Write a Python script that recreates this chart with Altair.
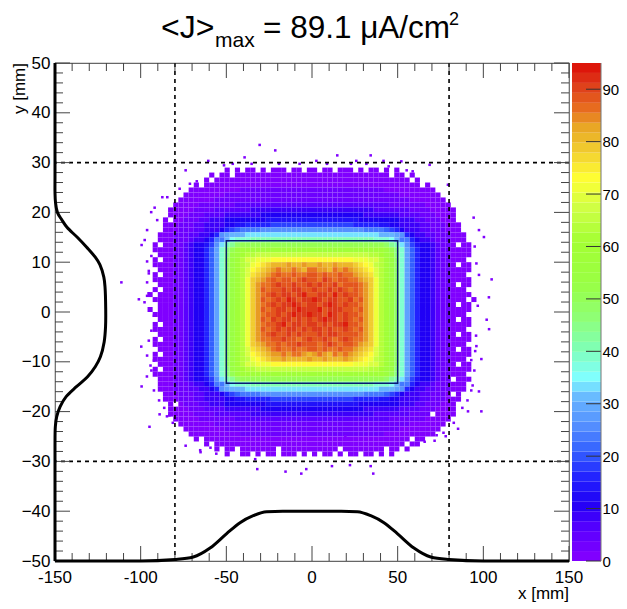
import altair as alt
import pandas as pd

alt.data_transformers.disable_max_rows()

FONT = "Liberation Sans"
W, H = 514, 498

# One string per row of the map, top to bottom (y = 28.5 ... -28.5), 3 mm x 1 mm cells.
# Each character is a level of 2.5 uA/cm2 (position in LEVELS); "." is an empty cell.
LEVELS = "0123456789abcdefghijklmnopqrstuvwxyzAB"
ROWS = [
    "...............0.0.00.0.000.00.0" "0.00.000.0.00.0.0...............",
    "............0.00.000000000000000" "000000000000000.00.0............",
    "...........0.0000000000000000000" "0000000000000000000.0...........",
    ".........0.000000000000000000000" "000000000000000000000.0.........",
    "........000000000011111111111111" "11111111111111" "0000000000........",
    ".......0000000011111111111111111" "11111111111111111" "00000000.......",
    "......00000001111111111111111111" "1111111111111111111" "0000000......",
    ".....000001111111222222222222222" "222222222222222111111100000.....",
    "....0000011112222222333333333333" "3333333333332222222111100000....",
    "....0000111222233333334444444444" "4444444444333333322221110000....",
    "...0.001112233344444444555555555" "5555555554444444433322111000....",
    "...00011122333344556666677777777" "77777777666665544333322111000...",
    "...0001112233346789999aaaaaaaaaa" "aaaaaaaaaa9999876433322111000...",
    "..000111223346abcccddddddddddddd" "dddddddddddddcccba643322111000..",
    "..0001112334699cefffgggggggggggg" "ggggggggggggfffec9964332111000..",
    ".0.00112" "3445" "7adghjkkkkkkkkkkkkkk" "kkkkkkkkkkkkkkjhgda7" "5443" "2110.00.",
    ".0000112" "3446" "8bfikmnnnnnnnnnnnnnn" "nnnnnnnnnnnnnnmkifb8" "6443" "2110000.",
    "..000112" "3446" "8bfilmoppqqqqqqqqqqq" "qqqqqqqqqqqppomlifb8" "6443" "2110000.",
    ".0.00112" "3446" "8bfjlnprrssstttttttt" "ttttttttsssrrpnljfb8" "6443" "211000..",
    ".0000112" "3446" "8bfjlnpqstuvwwwxwwxw" "wxwwxwwwvutsqpnljfb8" "6443" "2110.00.",
    "..000112" "3446" "8bfjlnprtuvwxyxxyxwy" "yxxwyxyxwvutrpnljfb8" "6443" "2110000.",
    ".0.00112" "3446" "8bfjlnpruvwxyzyyzyyz" "zyzyyzyyxwvurpnljfb8" "6443" "211000..",
    ".0000112" "3446" "8bfjlnpsvwxyzyzzyzAz" "zyAzyzzyyxwvspnljfb8" "6443" "2110000.",
    "..000112" "3446" "8bfjlnpsvxyyzAzzAzzA" "zAzzAyzzzyxvspnljfb8" "6443" "2110.00.",
    ".0.00112" "3446" "8bfjlnpsvxzyzzAzAAzz" "AzzAzAzyzyxvspnljfb8" "6443" "211000..",
    "0.000112" "3446" "8bfjlnpsvxyzAzAAzABz" "zAAzBzAzzyxvspnljfb8" "6443" "2110000.",
    ".0000112" "3446" "8bfjlnpsvxzyzAzBAzAA" "BAzAAzzAyzxvspnljfb8" "6443" "211000.0",
    "..000112" "3446" "8bfjlnpsvxyzAzAABAzA" "AzABAzAzzyxvspnljfb8" "6443" "2110.00.",
    "0.000112" "3446" "8bfjlnpsvxzyzAAzABAA" "ABzAAAzzyzxvspnljfb8" "6443" "2110000.",
    ".0000112" "3446" "8bfjlnpsvxyzzAzABAAB" "AAzBAzAzzyxvspnljfb8" "6443" "211000..",
    "..000112" "3446" "8bfjlnpsvxzyAzAAzAzA" "zABAAzAzyzxvspnljfb8" "6443" "2110.00.",
    ".0.00112" "3446" "8bfjlnpsvxyzzABzAAzA" "AzAzAABzzyxvspnljfb8" "6443" "2110000.",
    ".0000112" "3446" "8bfjlnpsvxzyzAzAAzAz" "AAzAzzAzyzxvspnljfb8" "6443" "211000..",
    "..000112" "3446" "8bfjlnpsvxyzAzzAzAzz" "zAzAAzzzzyxvspnljfb8" "6443" "2110.00.",
    ".0.00112" "3446" "8bfjlnpsvxyyzzAzzyzA" "zzAzyzAzyyxvspnljfb8" "6443" "2110000.",
    ".0000112" "3446" "8bfjlnpsvwxyyzyzzAzz" "zyzAzyzzyxwvspnljfb8" "6443" "211000..",
    "..000112" "3446" "8bfjlnpruvwxyzyyzyyz" "zyzyyzyyxwvurpnljfb8" "6443" "2110.00.",
    ".0.00112" "3446" "8bfjlnprtuvwxxyxyyxw" "xyxwyxyxwvutrpnljfb8" "6443" "2110000.",
    ".0000112" "3446" "8bfjlnpqstuvwwxwwwwx" "wwxwwwxwvutsqpnljfb8" "6443" "211000..",
    "..000112" "3446" "8bfjlnprrssstttttttt" "ttttttttsssrrpnljfb8" "6443" "2110.00.",
    ".0.00112" "3446" "8bfilmoppqqqqqqqqqqq" "qqqqqqqqqqqppomlifb8" "6443" "2110000.",
    ".0000112" "3446" "8bfikmnnnnnnnnnnnnnn" "nnnnnnnnnnnnnnmkifb8" "6443" "211000..",
    "..000112" "3445" "7adghjkkkkkkkkkkkkkk" "kkkkkkkkkkkkkkjhgda7" "5443" "211.000.",
    "..0001112334699cefffgggggggggggg" "ggggggggggggfffec9964332111000..",
    "..000111223346abcccddddddddddddd" "dddddddddddddcccba643322111000..",
    "...0001112233346789999aaaaaaaaaa" "aaaaaaaaaa99998764333221110.0...",
    "...00011122333344556666677777777" "77777777666665544333322111000...",
    "....0.01112233344444444555555555" "5555555554444444433322111000....",
    "....0000111222233333334444444444" "4444444444333333322221110000....",
    "....0000011112222222333333333333" "33333333333322222221111.0000....",
    ".....000001111111222222222222222" "222222222222222111111100000.....",
    "......00000001111111111111111111" "1111111111111111111" "0000000......",
    ".......0000000011111111111111111" "11111111111111111" "00000000.......",
    "........000000000011111111111111" "11111111111111" "0000000000........",
    ".........0.000000000000000000000" "0000000000000000000.00..........",
    "...........0.0000000000000000000" "000000000000000000.00...........",
    ".............0.00.0000000.000000" "00000.00000000.00.0.............",
    "...............0..00.0.00.000.0." "0.00.0.00.00.0.0................",
]
CELL_LEFT, CELL_TOP, CELL_W, CELL_H, LEVEL_STEP = -96.0, 29.0, 3.0, 1.0, 2.5

# Isolated low cells outside the body of the beam
SPECK_X = [-31.3,-22.2,-40.1,-61.3,-52.1,-74.5,-88.1,-85.2,-92.6,-94.6,-91.1,-97,-98.4,-100.2,-97,-97,-101.8,-98.5,-112,
           14,33.5,1.8,25.1,41,51.4,54.5,67.9,78.6,93.6,96.7,99.6,104.1,102.5,96.7,95.2,94.2,
           -100.4,-97.1,-100.2,-95.6,-89.7,-85.4,-77.6,-74.5,-65.8,-56.6,-32.7,-16.2,-7,-4.1,-33.9,
           10.9,21.4,33.5,35,18.7,101.2,102.6,98.1,96.7,98.1,90.3,84.5,77.3,65,70.8,95.2,94.5,92.2,90.5,92.2,
           -94.5,-96,-96,-93,-94.5,-96,-93,-94.5,-93,-90,-87,-84,-82,-66,-60,-47,-36,-20,-8,8,22,31,44,58,
           -78,-72,-68,72,76,82,87,90,93,94,95,96,-97,-96,-97,-95]
SPECK_Y = [33.3,32.2,30.8,30.1,29.2,28.2,22.8,22.8,20.7,19.8,18.2,16.2,14.2,13.2,9.9,5.7,2.3,1.7,5.7,
           31.2,31.2,30.1,30.1,30.1,30,28.2,29.3,25.3,18.7,16.2,14.8,6.3,2.7,7.2,9.5,12.9,
           -7.2,-13.2,-15.2,-23.3,-20.8,-21.2,-18.7,-27.1,-28.4,-28.7,-31.8,-32.3,-32.7,-31.8,-29.8,
           -31.2,-31,-31.2,-32.7,-25.2,-1.8,-3.7,-9.7,-16.2,-20.2,-20.2,-23.7,-25.2,-26.3,-26.1,-7.1,-8.1,-9.9,-13.8,-16,
           11,7.5,3.5,-1,-4,-6,-10,-12,-16,-18,-19.5,-21,-22.5,-28,-27.5,29.5,29.5,29.5,29.5,29.5,29.5,29.5,29,28,
           24.5,25.5,26,-25,-24.5,-22.5,-19.5,-18,-15,-12,-5,1,3,8,-9,-11,-3]
SPECK_DX, SPECK_DY = 1.5, 0.5

# Colour scale of the bar
COLOR_STOPS = [0, 5, 10, 15, 20, 25, 30, 34, 40, 46, 52, 60, 66, 72, 77, 82, 85, 90, 95]
COLOR_HEX = ["#8000ff", "#5a00ff", "#2000f5", "#2222ff", "#3360ff", "#5590ff", "#66b4ff", "#80ffff",
             "#80ffb0", "#90ff70", "#99ff44", "#a4ff33", "#ccff44", "#ffff33", "#f2d030", "#e8a424",
             "#e87020", "#dd3a1a", "#dd0000"]
BAR_EDGES = [0,1.9,3.8,5.7,7.6,9.5,11.4,13.3,15.2,17.1,19,20.9,22.8,24.7,26.6,28.5,30.4,32.3,34.2,36.1,38,39.9,41.8,
             43.7,45.6,47.5,49.4,51.3,53.2,55.1,57,58.9,60.8,62.7,64.6,66.5,68.4,70.3,72.2,74.1,76,77.9,79.8,81.7,
             83.6,85.5,87.4,89.3,91.2,93.1,95]
BAR_TICKS = [0, 10, 20, 30, 40, 50, 60, 70, 80, 90]

# Lines
GUIDE_X = [-80, 80]
GUIDE_Y = [-30, 30]
BOX_X, BOX_X2, BOX_Y, BOX_Y2 = -50, 50, -14.3, 14.3
BOTTOM_X = [-150,-100,-80,-69.3,-59.5,-49.8,-42,-34.3,-26.5,-17,0,17,26.5,34.3,42,49.8,59.5,69.3,80,100,150]
BOTTOM_Y = [-50,-50,-49.7,-49.2,-47.4,-44.5,-42.3,-40.9,-40.1,-40,-40,-40,-40.1,-40.9,-42.3,-44.5,-47.4,-49.2,-49.7,-50,-50]
LEFT_Y = [50,35,27,24,22,20,18.5,17,15,13,11,9.5,7,5,0.5,-3,-6,-9,-11,-13,-15,-17,-19,-21,-23,-27,-35,-50]
LEFT_X = [-150,-150,-150,-150,-149.7,-148.6,-146,-143,-137,-131.5,-126.5,-123.8,-121.5,-120.8,-120.4,-120.5,-121.3,
          -123.5,-126.5,-131,-137.5,-143.5,-147,-149,-149.8,-150,-150,-150]

X_TICKS = [-150, -100, -50, 0, 50, 100, 150]
Y_TICKS = [-50, -40, -30, -20, -10, 0, 10, 20, 30, 40, 50]
X_MINOR = [v for v in range(-150, 151, 10) if v not in X_TICKS]
Y_MINOR = [v for v in range(-50, 51, 2) if v not in Y_TICKS]

# Tables
cells = []
for r, row in enumerate(ROWS):
    for c, ch in enumerate(row):
        if ch == ".":
            continue
        cells.append({"x0": CELL_LEFT + c * CELL_W, "x1": CELL_LEFT + (c + 1) * CELL_W,
                      "y0": CELL_TOP - r * CELL_H, "y1": CELL_TOP - (r + 1) * CELL_H,
                      "v": LEVELS.index(ch) * LEVEL_STEP})
for sx, sy in zip(SPECK_X, SPECK_Y):
    cells.append({"x0": sx, "x1": sx + SPECK_DX, "y0": sy, "y1": sy + SPECK_DY, "v": 0.0})
cells = pd.DataFrame(cells)

xs = alt.Scale(domain=[-150, 150], nice=False, zero=False)
ys = alt.Scale(domain=[-50, 50], nice=False, zero=False)
bs = alt.Scale(domain=[0, 95], nice=False, zero=False)
cs = alt.Scale(domain=COLOR_STOPS, range=COLOR_HEX, interpolate="rgb", clamp=True)

def X(f, **k):
    return alt.X(f, scale=xs, axis=None, **k)

def Y(f, **k):
    return alt.Y(f, scale=ys, axis=None, **k)

heat = alt.Chart(cells).mark_rect(stroke=None).encode(
    x=X("x0:Q"),
    x2="x1:Q",
    y=alt.Y("y0:Q", scale=ys, axis=alt.Axis(
        values=Y_TICKS, ticks=False, domain=False, grid=False, labelFlush=False, labelOverlap=False,
        labelFont=FONT, labelFontSize=17, labelColor="#000", labelPadding=5, title=None)),
    y2="y1:Q",
    color=alt.Color("v:Q", scale=cs, legend=None),
)

def rules_x(vals, y1, y2, color="#444", width=1):
    return alt.Chart(pd.DataFrame({"v": vals})).mark_rule(color=color, strokeWidth=width).encode(
        x=X("v:Q"), y=alt.value(y1), y2=alt.value(y2))

def rules_y(vals, x1, x2, color="#444", width=1):
    return alt.Chart(pd.DataFrame({"v": vals})).mark_rule(color=color, strokeWidth=width).encode(
        y=Y("v:Q"), x=alt.value(x1), x2=alt.value(x2))

tick_layers = [
    rules_x(X_TICKS, H, H - 15), rules_x(X_MINOR, H, H - 8),
    rules_x(X_TICKS, 0, 15), rules_x(X_MINOR, 0, 8),
    rules_y(Y_TICKS, 0, 15), rules_y(Y_MINOR, 0, 8),
    rules_y(Y_TICKS, W, W - 15), rules_y(Y_MINOR, W, W - 8),
]

x_labels = alt.Chart(pd.DataFrame({"v": X_TICKS, "s": [str(v) for v in X_TICKS]})).mark_text(
    font=FONT, fontSize=17, color="#000", align="center", baseline="middle").encode(
    x=X("v:Q"), y=alt.value(H + 17), text="s:N")

dash_x = alt.Chart(pd.DataFrame({"v": GUIDE_X})).mark_rule(color="#000", strokeWidth=1.6, strokeDash=[4, 4]).encode(x=X("v:Q"))
dash_y = alt.Chart(pd.DataFrame({"v": GUIDE_Y})).mark_rule(color="#000", strokeWidth=1.6, strokeDash=[4, 4]).encode(y=Y("v:Q"))

box = alt.Chart(pd.DataFrame({"x0": [BOX_X], "x1": [BOX_X2], "y0": [BOX_Y], "y1": [BOX_Y2]})).mark_rect(
    fillOpacity=0, stroke="#0a1a70", strokeWidth=1.5).encode(x=X("x0:Q"), x2="x1:Q", y=Y("y0:Q"), y2="y1:Q")

curve_b = alt.Chart(pd.DataFrame({"x": BOTTOM_X, "y": BOTTOM_Y})).mark_line(
    color="#000", strokeWidth=3, interpolate="monotone", clip=False).encode(x=X("x:Q"), y=Y("y:Q"))
curve_l = alt.Chart(pd.DataFrame({"x": LEFT_X, "y": LEFT_Y, "o": list(range(len(LEFT_X)))})).mark_line(
    color="#000", strokeWidth=3, interpolate="catmull-rom", clip=False).encode(
    x=X("x:Q"), y=Y("y:Q"), order="o:Q")

def label(text, px, py, size, **kw):
    args = dict(font=FONT, fontSize=size, align="left", baseline="alphabetic", color="#000")
    args.update(kw)
    return alt.Chart(pd.DataFrame({"t": [text]})).mark_text(**args).encode(
        x=alt.value(px), y=alt.value(py), text="t:N")

titles = [
    label("<J>", 106, -25, 32),
    label("max", 160, -16, 21),
    label("= 89.1 μA/cm", 208, -25, 31.5),
    label("2", 394, -38, 18),
    label("x [mm]", W, H + 33, 17, align="right", baseline="middle"),
    label("y [mm]", -35, 0, 17, align="right", baseline="middle", angle=270),
]

# Colour bar
bar_df = pd.DataFrame({"lo": BAR_EDGES[:-1], "hi": BAR_EDGES[1:]})
BX0, BX1 = W + 3, W + 32
bar = alt.Chart(bar_df).mark_rect(stroke=None).encode(
    y=alt.Y("lo:Q", scale=bs, axis=alt.Axis(
        orient="right", offset=BX1 - W, values=BAR_TICKS, ticks=False, domain=False, grid=False,
        labelFlush=False, labelOverlap=False, labelFont=FONT, labelFontSize=15, labelColor="#000",
        labelPadding=1, title=None)),
    y2="hi:Q", x=alt.value(BX0), x2=alt.value(BX1),
    color=alt.Color("lo:Q", scale=cs, legend=None),
)
bar_ticks = alt.Chart(pd.DataFrame({"v": BAR_TICKS})).mark_rule(color="#333", strokeWidth=1).encode(
    y=alt.Y("v:Q", scale=bs, axis=None), x=alt.value(BX1 - 15), x2=alt.value(BX1))
bar_edge = alt.Chart(pd.DataFrame({"v": [0], "w": [95]})).mark_rule(color="#777", strokeWidth=1).encode(
    y=alt.Y("v:Q", scale=bs, axis=None), y2="w:Q", x=alt.value(BX1))

chart = alt.layer(heat, dash_x, dash_y, box, *tick_layers, curve_b, curve_l, x_labels, *titles,
                  bar, bar_ticks, bar_edge).resolve_scale(y="independent").properties(
    width=W, height=H,
    padding={"left": 47, "top": 55, "right": 50, "bottom": 45},
    autosize=alt.AutoSizeParams(type="none"),
    background="white",
).configure_view(stroke="#666", strokeWidth=1.2)

chart.save("out.html", embed_options={"renderer": "svg", "actions": False})
